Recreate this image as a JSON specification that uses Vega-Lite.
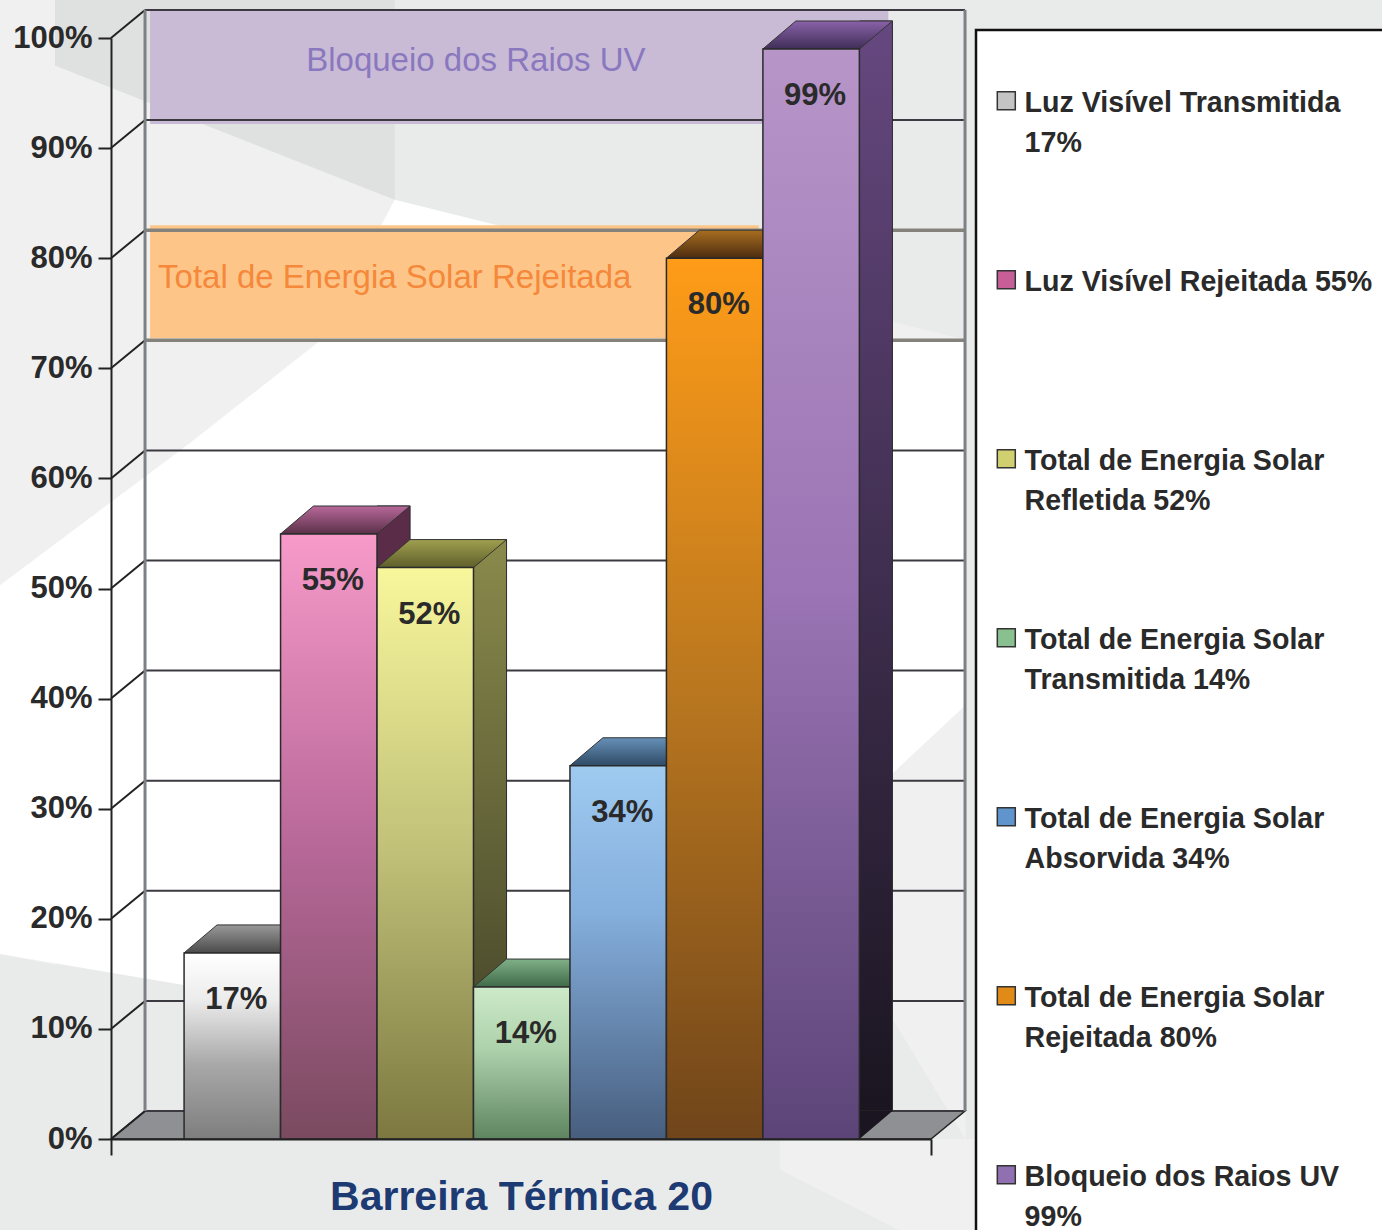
{"$schema":"https://vega.github.io/schema/vega-lite/v6.json","width":820,"height":1101,"autosize":{"type":"none"},"padding":{"left":111,"top":38,"right":451,"bottom":91},"background":"#e9ebea","config":{"view":{"stroke":null},"font":"Liberation Sans"},
"datasets":{"bars":[{"id":1,"series":"Luz Visível Transmitida 17%","value":16.9,"label":"17%"},{"id":2,"series":"Luz Visível Rejeitada 55%","value":54.95,"label":"55%"},{"id":3,"series":"Total de Energia Solar Refletida 52%","value":51.9,"label":"52%"},{"id":4,"series":"Total de Energia Solar Transmitida 14%","value":13.8,"label":"14%"},{"id":5,"series":"Total de Energia Solar Absorvida 34%","value":33.9,"label":"34%"},{"id":6,"series":"Total de Energia Solar Rejeitada 80%","value":80,"label":"80%"},{"id":7,"series":"Bloqueio dos Raios UV 99%","value":99,"label":"99%"}],
"grid":[{"v":0},{"v":10},{"v":20},{"v":30},{"v":40},{"v":50},{"v":60},{"v":70},{"v":80},{"v":90},{"v":100}],
"bands":[{"name":"Bloqueio dos Raios UV","low":90,"high":100,"x0":4.76,"x1":94.8,"tx":44.5,"mid":95.4},{"name":"Total de Energia Solar Rejeitada","low":70,"high":80,"x0":4.76,"x1":79,"tx":34.6,"mid":75.7}],
"floor":[{"f":0,"lo":0,"hi":0},{"f":4.15,"lo":0,"hi":2.54},{"f":100,"lo":0,"hi":2.54},{"f":104.15,"lo":2.54,"hi":2.54}],
"light":[{"f":-13.54,"lo":16.8,"hi":104},{"f":-6.83,"lo":15.8,"hi":104},{"f":-6.83,"lo":15.8,"hi":97.5},{"f":34.6,"lo":85.3,"hi":85.3},{"f":104.2,"lo":0,"hi":72.6}],
"light2":[{"f":81.6,"lo":-2.8,"hi":0},{"f":96.2,"lo":-8.3,"hi":0},{"f":105.5,"lo":-8.3,"hi":0}],
"white":[{"f":-13.54,"lo":16.8,"hi":50.3},{"f":9.6,"lo":13.9,"hi":63.2},{"f":25.5,"lo":8,"hi":72.5},{"f":34.6,"lo":5,"hi":85.3},{"f":90.4,"lo":31,"hi":75},{"f":95,"lo":33,"hi":72.6},{"f":104.2,"lo":39.4,"hi":72.6}],
"shade":[{"f":-6.83,"lo":97.5,"hi":104},{"f":34.6,"lo":85.3,"hi":104}]},
"layer":[
{"layer":[
{"data":{"name":"light"},"mark":{"type":"area","color":"#f0f0f0"},"encoding":{"x":{"field":"f","type":"quantitative","scale":{"domain":[0,100]},"axis":{"values":[0,100],"zindex":1,"grid":false,"labels":false,"tickSize":16,"tickColor":"#222","tickWidth":2,"domainColor":"#222","domainWidth":2,"title":"Barreira Térmica 20","titleFont":"Liberation Sans","titleFontWeight":"bold","titleFontSize":41,"titleColor":"#1d3a72","titlePadding":21}},"y":{"field":"lo","type":"quantitative","scale":{"domain":[0,100]},"axis":{"values":[0,10,20,30,40,50,60,70,80,90,100],"zindex":1,"grid":false,"labelExpr":"datum.value+'%'","labelFont":"Liberation Sans","labelFontWeight":"bold","labelFontSize":31,"labelColor":"#2a2a2a","labelPadding":6,"tickSize":13,"tickColor":"#222","tickWidth":2,"domainColor":"#222","domainWidth":2,"title":null}},"y2":{"field":"hi"}}},
{"data":{"name":"light2"},"mark":{"type":"area","color":"#f0f0f0"},"encoding":{"x":{"field":"f","type":"quantitative"},"y":{"field":"lo","type":"quantitative"},"y2":{"field":"hi"}}},
{"data":{"name":"white"},"mark":{"type":"area","color":"#ffffff"},"encoding":{"x":{"field":"f","type":"quantitative"},"y":{"field":"lo","type":"quantitative"},"y2":{"field":"hi"}}},
{"data":{"name":"shade"},"mark":{"type":"area","color":"#dfe0e0"},"encoding":{"x":{"field":"f","type":"quantitative"},"y":{"field":"lo","type":"quantitative"},"y2":{"field":"hi"}}},
{"data":{"name":"floor"},"mark":{"type":"area","color":"#8f9094","stroke":"#222","strokeWidth":1.5},"encoding":{"x":{"field":"f","type":"quantitative"},"y":{"field":"lo","type":"quantitative"},"y2":{"field":"hi"}}},
{"data":{"name":"bands"},"transform":[{"filter":"datum.low==90"}],"mark":{"type":"rect","color":"#c9bbd6","yOffset":-24,"y2Offset":-28},"encoding":{"x":{"field":"x0","type":"quantitative"},"x2":{"field":"x1"},"y":{"field":"low","type":"quantitative"},"y2":{"field":"high"}}},
{"data":{"name":"bands"},"transform":[{"filter":"datum.low==70"}],"mark":{"type":"rect","color":"#fdc688","yOffset":-30,"y2Offset":-33},"encoding":{"x":{"field":"x0","type":"quantitative"},"x2":{"field":"x1"},"y":{"field":"low","type":"quantitative"},"y2":{"field":"high"}}},
{"data":{"name":"grid"},"transform":[{"filter":"datum.v!=70 && datum.v!=80"}],"mark":{"type":"rule","color":"#3c3a40","strokeWidth":2,"yOffset":-28,"y2Offset":-28},"encoding":{"x":{"datum":4.15,"type":"quantitative"},"x2":{"datum":104.15},"y":{"field":"v","type":"quantitative"},"y2":{"field":"v"}}},
{"data":{"name":"grid"},"transform":[{"filter":"datum.v==70 || datum.v==80"}],"mark":{"type":"rule","color":"#85827c","strokeWidth":3.5,"yOffset":-28,"y2Offset":-28},"encoding":{"x":{"datum":4.15,"type":"quantitative"},"x2":{"datum":104.15},"y":{"field":"v","type":"quantitative"},"y2":{"field":"v"}}},
{"data":{"name":"grid"},"mark":{"type":"rule","color":"#222","strokeWidth":2,"y2Offset":-28},"encoding":{"x":{"datum":0,"type":"quantitative"},"x2":{"datum":4.15},"y":{"field":"v","type":"quantitative"},"y2":{"field":"v"}}},
{"data":{"values":[{"w":4.15},{"w":104.15}]},"mark":{"type":"rule","color":"#7d8186","strokeWidth":3,"yOffset":-28,"y2Offset":-28},"encoding":{"x":{"field":"w","type":"quantitative"},"y":{"datum":100,"type":"quantitative"},"y2":{"datum":0}}},
{"data":{"name":"bands"},"mark":{"type":"text","font":"Liberation Sans","fontSize":33,"yOffset":-28},"encoding":{"x":{"field":"tx","type":"quantitative"},"y":{"field":"mid","type":"quantitative"},"text":{"field":"name"},"color":{"field":"name","type":"nominal","legend":null,"scale":{"domain":["Bloqueio dos Raios UV","Total de Energia Solar Rejeitada"],"range":["#8a78bf","#f5883a"]}}}}
]},
{"data":{"name":"bars"},"encoding":{"x":{"field":"series","type":"nominal","sort":null,"axis":null,"scale":{"domain":["Luz Visível Transmitida 17%","Luz Visível Rejeitada 55%","Total de Energia Solar Refletida 52%","Total de Energia Solar Transmitida 14%","Total de Energia Solar Absorvida 34%","Total de Energia Solar Rejeitada 80%","Bloqueio dos Raios UV 99%"],"paddingInner":0,"paddingOuter":0.75,"align":0.505}},"y":{"field":"value","type":"quantitative"}},
"layer":[
{"mark":{"type":"point","filled":true,"shape":"square","size":16,"opacity":1},"encoding":{"fill":{"field":"series","type":"nominal","sort":null,"scale":{"domain":["Luz Visível Transmitida 17%","Luz Visível Rejeitada 55%","Total de Energia Solar Refletida 52%","Total de Energia Solar Transmitida 14%","Total de Energia Solar Absorvida 34%","Total de Energia Solar Rejeitada 80%","Bloqueio dos Raios UV 99%"],"range":["#c4c4c4","#c85e98","#d0d070","#88c090","#5f95cc","#e08a18","#9070b0"]},"legend":{"orient":"none","legendX":865,"legendY":-8,"title":" ","titleFontSize":8,"titlePadding":21,"padding":16,"fillColor":"#ffffff","strokeColor":"#111","gridAlign":"all","rowPadding":96,"symbolType":"M-1,0.28H1V2.28H-1Z","symbolSize":324,"symbolStrokeColor":"#333","symbolStrokeWidth":1.5,"symbolOpacity":1,"labelFont":"Liberation Sans","labelFontWeight":"bold","labelFontSize":28.6,"labelColor":"#2a2a2a","labelBaseline":"top","labelOffset":4,"labelLimit":420,"encoding":{"legend":{"strokeWidth":{"value":2.5}},"labels":{"lineHeight":{"value":40}}},"labelExpr":"split(replace(replace(replace(datum.label,'Solar ','Solar|'),'Visível Transmitida ','Visível Transmitida|'),'UV ','UV|'),'|')"}}}},
{"transform":[{"filter":{"field":"id","equal":1}}],"layer":[
{"mark":{"type":"point","filled":true,"opacity":1,"size":4,"shape":"M-48.3,0L48.3,0L81.3,-28L-15.3,-28Z","stroke":"#333","strokeWidth":1,"fill":{"x1":0,"y1":0,"x2":0,"y2":1,"gradient":"linear","stops":[{"offset":0,"color":"#9a9a9a"},{"offset":1,"color":"#4a4a4a"}]}}},
{"mark":{"type":"bar","stroke":"#2a2a2a","strokeWidth":1.5,"fill":{"x1":0,"y1":0,"x2":0,"y2":1,"gradient":"linear","stops":[{"offset":0,"color":"#ffffff"},{"offset":0.25,"color":"#ececec"},{"offset":0.6,"color":"#a8a8a8"},{"offset":1,"color":"#7e7e7e"}]}}}]},
{"transform":[{"filter":{"field":"id","equal":2}}],"layer":[
{"mark":{"type":"bar","width":33,"xOffset":64.8,"yOffset":-28,"y2Offset":-28,"stroke":"#2a2a2a","fill":"#5a2c48"},"encoding":{"y2":{"datum":0}}},
{"mark":{"type":"point","filled":true,"opacity":1,"size":4,"shape":"M-48.3,0L48.3,0L81.3,-28L-15.3,-28Z","stroke":"#333","strokeWidth":1,"fill":{"x1":0,"y1":0,"x2":0,"y2":1,"gradient":"linear","stops":[{"offset":0,"color":"#b8689a"},{"offset":1,"color":"#5a3048"}]}}},
{"mark":{"type":"bar","stroke":"#2a2a2a","strokeWidth":1.5,"fill":{"x1":0,"y1":0,"x2":0,"y2":1,"gradient":"linear","stops":[{"offset":0,"color":"#f79ac9"},{"offset":0.5,"color":"#b9699a"},{"offset":1,"color":"#7a4a60"}]}}}]},
{"transform":[{"filter":{"field":"id","equal":3}}],"layer":[
{"mark":{"type":"bar","width":33,"xOffset":64.8,"yOffset":-28,"y2Offset":-28,"stroke":"#2a2a2a","fill":{"x1":0,"y1":0,"x2":0,"y2":1,"gradient":"linear","stops":[{"offset":0,"color":"#8a8a4c"},{"offset":1,"color":"#3e3e26"}]}},"encoding":{"y2":{"datum":0}}},
{"mark":{"type":"point","filled":true,"opacity":1,"size":4,"shape":"M-48.3,0L48.3,0L81.3,-28L-15.3,-28Z","stroke":"#333","strokeWidth":1,"fill":{"x1":0,"y1":0,"x2":0,"y2":1,"gradient":"linear","stops":[{"offset":0,"color":"#a0a050"},{"offset":1,"color":"#5e5e2a"}]}}},
{"mark":{"type":"bar","stroke":"#2a2a2a","strokeWidth":1.5,"fill":{"x1":0,"y1":0,"x2":0,"y2":1,"gradient":"linear","stops":[{"offset":0,"color":"#f8f79c"},{"offset":0.5,"color":"#c0c078"},{"offset":1,"color":"#7c7840"}]}}}]},
{"transform":[{"filter":{"field":"id","equal":4}}],"layer":[
{"mark":{"type":"point","filled":true,"opacity":1,"size":4,"shape":"M-48.3,0L48.3,0L81.3,-28L-15.3,-28Z","stroke":"#333","strokeWidth":1,"fill":{"x1":0,"y1":0,"x2":0,"y2":1,"gradient":"linear","stops":[{"offset":0,"color":"#80b088"},{"offset":1,"color":"#3f6a48"}]}}},
{"mark":{"type":"bar","stroke":"#2a2a2a","strokeWidth":1.5,"fill":{"x1":0,"y1":0,"x2":0,"y2":1,"gradient":"linear","stops":[{"offset":0,"color":"#cdeac8"},{"offset":0.4,"color":"#aed2ac"},{"offset":1,"color":"#5e8460"}]}}}]},
{"transform":[{"filter":{"field":"id","equal":5}}],"layer":[
{"mark":{"type":"point","filled":true,"opacity":1,"size":4,"shape":"M-48.3,0L48.3,0L81.3,-28L-15.3,-28Z","stroke":"#333","strokeWidth":1,"fill":{"x1":0,"y1":0,"x2":0,"y2":1,"gradient":"linear","stops":[{"offset":0,"color":"#6690b8"},{"offset":1,"color":"#2f4a66"}]}}},
{"mark":{"type":"bar","stroke":"#2a2a2a","strokeWidth":1.5,"fill":{"x1":0,"y1":0,"x2":0,"y2":1,"gradient":"linear","stops":[{"offset":0,"color":"#9fcaf0"},{"offset":0.4,"color":"#84aedc"},{"offset":1,"color":"#475e7e"}]}}}]},
{"transform":[{"filter":{"field":"id","equal":6}}],"layer":[
{"mark":{"type":"point","filled":true,"opacity":1,"size":4,"shape":"M-48.3,0L48.3,0L81.3,-28L-15.3,-28Z","stroke":"#333","strokeWidth":1,"fill":{"x1":0,"y1":0,"x2":0,"y2":1,"gradient":"linear","stops":[{"offset":0,"color":"#a86e20"},{"offset":1,"color":"#4d2c10"}]}}},
{"mark":{"type":"bar","stroke":"#2a2a2a","strokeWidth":1.5,"fill":{"x1":0,"y1":0,"x2":0,"y2":1,"gradient":"linear","stops":[{"offset":0,"color":"#ff9c18"},{"offset":0.5,"color":"#b8761f"},{"offset":1,"color":"#70451a"}]}}}]},
{"transform":[{"filter":{"field":"id","equal":7}}],"layer":[
{"mark":{"type":"bar","width":33,"xOffset":64.8,"yOffset":-28,"y2Offset":-28,"stroke":"#2a2a2a","fill":{"x1":0,"y1":0,"x2":0,"y2":1,"gradient":"linear","stops":[{"offset":0,"color":"#664880"},{"offset":1,"color":"#1a1520"}]}},"encoding":{"y2":{"datum":0}}},
{"mark":{"type":"point","filled":true,"opacity":1,"size":4,"shape":"M48.3,0L81.3,-28L48.3,-28Z","fill":"#1a1520"},"encoding":{"y":{"datum":0,"type":"quantitative"}}},
{"mark":{"type":"point","filled":true,"opacity":1,"size":4,"shape":"M-48.3,0L48.3,0L81.3,-28L-15.3,-28Z","stroke":"#333","strokeWidth":1,"fill":{"x1":0,"y1":0,"x2":0,"y2":1,"gradient":"linear","stops":[{"offset":0,"color":"#8a62a8"},{"offset":1,"color":"#3f2e58"}]}}},
{"mark":{"type":"bar","stroke":"#2a2a2a","strokeWidth":1.5,"fill":{"x1":0,"y1":0,"x2":0,"y2":1,"gradient":"linear","stops":[{"offset":0,"color":"#b795c8"},{"offset":0.5,"color":"#9a74b4"},{"offset":1,"color":"#5c4478"}]}}}]},
{"mark":{"type":"text","font":"Liberation Sans","fontWeight":"bold","fontSize":31,"color":"#2a2a2a","dx":4,"dy":47},"encoding":{"text":{"field":"label"}}}
]}
],"resolve":{"scale":{"x":"independent"}}}
